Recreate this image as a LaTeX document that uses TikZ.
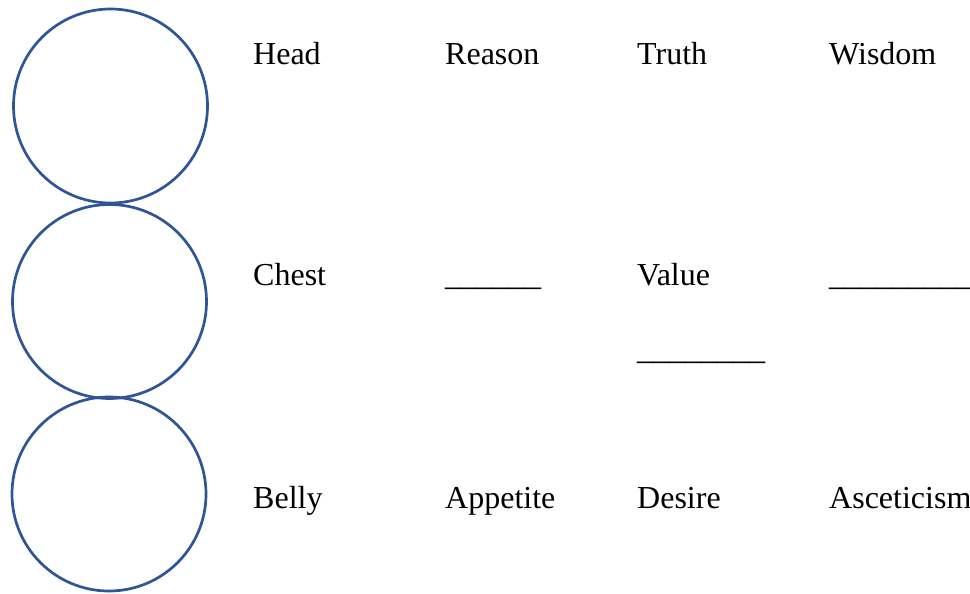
\documentclass[tikz,border=0pt]{standalone}
\usepackage{fontspec}
\setmainfont{Liberation Serif}
\definecolor{ringblue}{HTML}{2F5597}
\begin{document}
\begin{tikzpicture}[x=1pt,y=-1pt,
  ring/.style={circle,draw=ringblue,line width=2.7pt,minimum size=194pt,inner sep=0pt},
  word/.style={anchor=base west,inner sep=0pt,font=\fontsize{32}{38}\selectfont}]
\useasboundingbox (0,0) rectangle (970,594);
\node[ring] (c1) at (110.5,106) {};
\node[ring] (c2) at (109.5,301.5) {};
\node[ring] (c3) at (109,494) {};
\node[word] (head) at (253,65) {Head};
\node[word] (reason) at (445,65) {Reason};
\node[word] (truth) at (637,65) {Truth};
\node[word] (wisdom) at (829,65) {Wisdom};
\node[word] (chest) at (253,285) {Chest};
\node[word] (blankA) at (445,285) {\_\_\_\_\_\_};
\node[word] (value) at (637,285) {Value};
\node[word] (blankB) at (829,285) {\_\_\_\_\_\_\_\_\_};
\node[word] (blankC) at (637,359) {\_\_\_\_\_\_\_\_};
\node[word] (belly) at (253,508) {Belly};
\node[word] (appetite) at (445,508) {Appetite};
\node[word] (desire) at (637,508) {Desire};
\node[word] (asceticism) at (829,508) {Asceticism};
\end{tikzpicture}
\end{document}
